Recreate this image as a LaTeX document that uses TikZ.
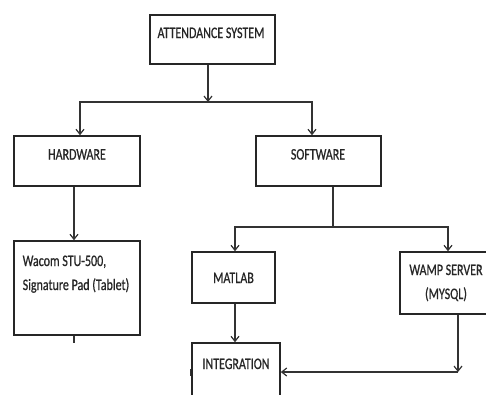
\documentclass[tikz,border=0pt]{standalone}
\usepackage{fontspec}
\setmainfont{Carlito}[FakeStretch=0.75,FakeBold=0.7]
\usetikzlibrary{arrows.meta}
\begin{document}
\begin{tikzpicture}[x=1pt,y=-1pt,
  box/.style={draw=black!85,line width=1.6pt,fill=white,minimum width=#1,inner sep=0pt},
  lbl/.style={anchor=base,inner sep=0pt,text=black!85,font=\fontsize{16}{24}\selectfont},
  conn/.style={draw=black!80,line width=1.5pt},
  arr/.style={conn,-{Straight Barb[length=5pt,width=8pt,line width=1.2pt]}}]
\useasboundingbox (0,0) rectangle (486,394);
% boxes
\node[box=125pt,minimum height=49pt] (att) at (212.5,39.5) {};
\node[box=126pt,minimum height=50pt] (hw) at (77,161) {};
\node[box=125pt,minimum height=50pt] (sw) at (318.5,161) {};
\node[box=126pt,minimum height=94pt] (wac) at (77,288) {};
\node[box=83pt,minimum height=51pt] (mat) at (233.5,277.5) {};
\node[box=90pt,minimum height=62pt] (wamp) at (445,283) {};
\node[box=88pt,minimum height=60pt] (int) at (236,373) {};
% labels
\node[lbl] (tatt) at (211,38) {ATTENDANCE SYSTEM};
\node[lbl] (thw) at (77,159.5) {HARDWARE};
\node[lbl] (tsw) at (318,159.5) {SOFTWARE};
\node[lbl,anchor=base west] (twac1) at (22.5,266) {Wacom STU-500,};
\node[lbl,anchor=base west] (twac2) at (22.5,290) {Signature Pad (Tablet)};
\node[lbl] (tmat) at (233.5,283) {MATLAB};
\node[lbl] (twamp1) at (446,275) {WAMP SERVER};
\node[lbl] (twamp2) at (446,299) {(MYSQL)};
\node[lbl] (tint) at (236,369) {INTEGRATION};
% junctions
\coordinate (j1) at (208,102);
\coordinate (j2) at (333,227);
\coordinate (j3) at (458,372);
% connectors
\draw[arr] (j1 |- att.south) -- (j1);
\draw[arr] (j1) -| ([xshift=3pt]hw.north);
\draw[arr] (j1) -| ([xshift=-6.5pt]sw.north);
\draw[arr] ([xshift=-3pt]hw.south) -- ([xshift=-3pt]wac.north);
\draw[conn] ([xshift=-3pt]wac.south) -- ++(0,7);
\draw[conn] (j2 |- sw.south) -- (j2);
\draw[arr] (j2) -| ([xshift=1.5pt]mat.north);
\draw[arr] (j2) -| ([xshift=3pt]wamp.north);
\draw[arr] ([xshift=1.5pt]mat.south) -- ([xshift=1.5pt]mat.south |- int.north);
\draw[arr] (j3 |- wamp.south) -- (j3);
\draw[arr] (j3) -- (int.east |- j3);
\draw[conn,line width=1pt] (190,369) -- (190,376);
\end{tikzpicture}
\end{document}
